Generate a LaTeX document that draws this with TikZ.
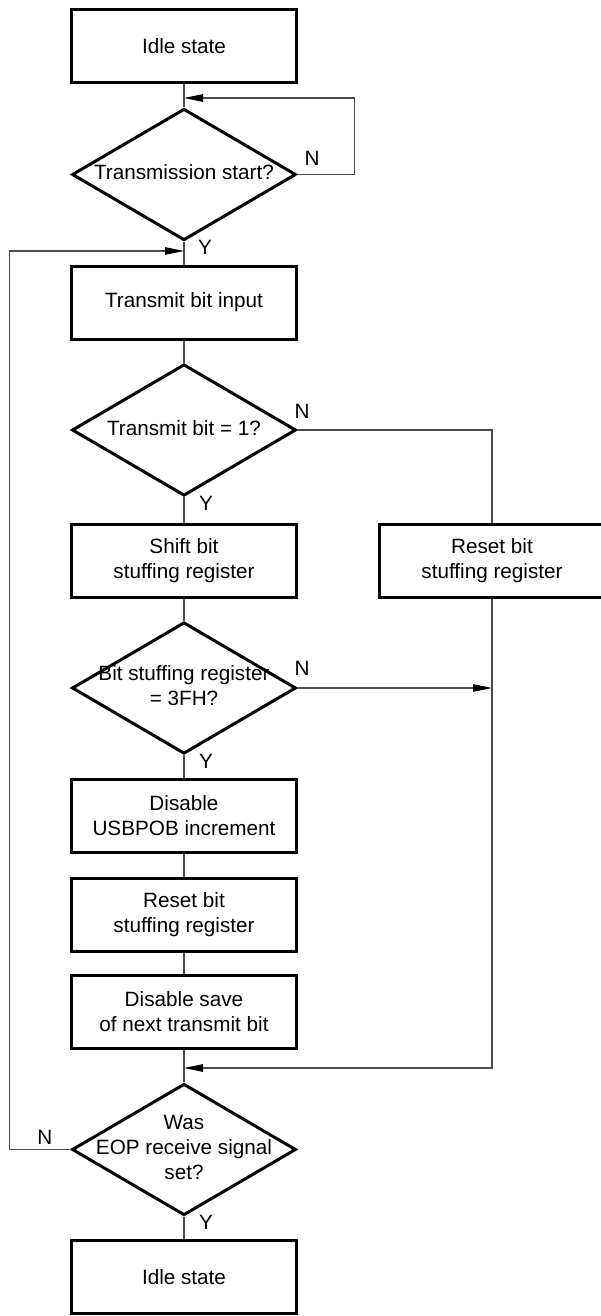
\documentclass[tikz,border=0pt]{standalone}
\usepackage{fontspec}
\setmainfont{Liberation Sans}
\usepackage{tikz}
\usetikzlibrary{arrows.meta, positioning, shapes.geometric}

% text of a decision, allowed to run past the diamond sides
\newcommand{\dlines}[1]{\makebox[0pt]{\begin{tabular}{@{}c@{}}#1\end{tabular}}}

\tikzset{
  stepbox/.style={draw, line width=3pt, minimum width=225pt, minimum height=73pt,
    inner sep=0pt, align=center},
  decision/.style={diamond, draw, line width=3pt, minimum width=224pt,
    minimum height=131.5pt, inner sep=0pt},
  flowline/.style={line width=1.1pt, draw=black!70},
  flowarrow/.style={flowline, -{Triangle[length=19pt, width=7.5pt, color=black]}},
  branchlabel/.style={inner sep=0pt}
}

\begin{document}
\begin{tikzpicture}[x=1pt, y=-1pt, font=\fontsize{20.7}{25}\selectfont]
  \useasboundingbox (0,0) rectangle (601,1316);

  % Main column
  \node[stepbox] (idle1) at (184,46.5) {Idle state};
  \node[decision] (start) at (184,174.5) {\dlines{Transmission start?}};
  \node[stepbox] (input) at (184,302.5) {Transmit bit input};
  \node[decision] (isone) at (184,430) {\dlines{Transmit bit = 1?}};
  \node[stepbox] (shift) at (184,561) {Shift bit\\stuffing register};
  \node[decision] (full) at (184,688) {\dlines{Bit stuffing register\\= 3FH?}};
  \node[stepbox] (noinc) at (184,815.5) {Disable\\USBPOB increment};
  \node[stepbox] (reset) at (184,915) {Reset bit\\stuffing register};
  \node[stepbox] (nosave) at (184,1012) {Disable save\\of next transmit bit};
  \node[decision] (eop) at (184,1149.5) {\dlines{Was\\EOP receive signal\\set?}};
  \node[stepbox] (idle2) at (184,1277) {Idle state};

  % Right column
  \node[stepbox] (clear) at (492,561) {Reset bit\\stuffing register};

  % Junctions
  \coordinate (waitin) at (184,98);
  \coordinate (loopin) at (184,251);
  \coordinate (skipin) at (492,688);
  \coordinate (mergein) at (184,1068);

  % Straight flow
  \draw[flowline] (idle1) -- (start);
  \draw[flowline] (start) -- (input);
  \draw[flowline] (input) -- (isone);
  \draw[flowline] (isone) -- (shift);
  \draw[flowline] (shift) -- (full);
  \draw[flowline] (full) -- (noinc);
  \draw[flowline] (noinc) -- (reset);
  \draw[flowline] (reset) -- (nosave);
  \draw[flowline] (nosave) -- (eop);
  \draw[flowline] (eop) -- (idle2);

  % Branches
  \draw[flowarrow] (start.east) -- ++(57,0) |- (waitin);
  \draw[flowline] (isone.east) -| (clear);
  \draw[flowarrow] (full.east) -- (skipin);
  \draw[flowarrow] (clear) |- (mergein);
  \draw[flowarrow] (eop.west) -- ++(-61,0) |- (loopin);

  % Y / N
  \node[branchlabel, above right=9pt and 7pt of start.east] (startn) {N};
  \node[branchlabel, below right=-2pt and 14pt of start.south] (starty) {Y};
  \node[branchlabel, above right=11pt and -3pt of isone.east] (isonen) {N};
  \node[branchlabel, below right=-1pt and 15pt of isone.south] (isoney) {Y};
  \node[branchlabel, above right=12pt and -3pt of full.east] (fulln) {N};
  \node[branchlabel, below right=-1pt and 15pt of full.south] (fully) {Y};
  \node[branchlabel, above left=5pt and 18pt of eop.west] (eopn) {N};
  \node[branchlabel, below right=-2pt and 15pt of eop.south] (eopy) {Y};
\end{tikzpicture}
\end{document}
